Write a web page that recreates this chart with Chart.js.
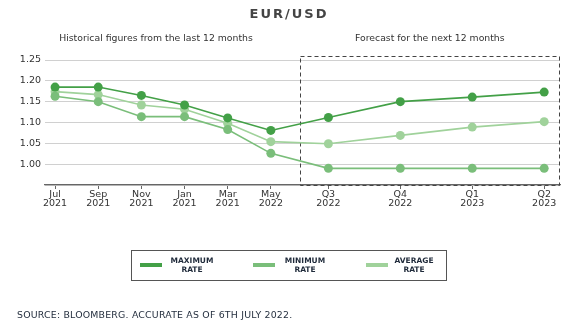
<!DOCTYPE html>
<html>
<head>
<meta charset="utf-8">
<script src="https://cdn.jsdelivr.net/npm/chart.js"></script>
<style>
    body { margin: 0; background: #fff; font-family: "DejaVu Sans", sans-serif; }
    #wrap { position: relative; width: 576px; height: 322px; }
    #legend { position: absolute; left: 131px; top: 250px; width: 316px; height: 31px; border: 1.5px solid #555; box-sizing: border-box; }
    .item { position: absolute; top: 0; height: 28px; }
    .swatch { position: absolute; top: 12px; width: 22px; height: 4px; }
    .label { position: absolute; top: 5px; width: 70px; text-align: center; font-size: 7.5px; line-height: 9px; font-weight: bold; color: #1f2a3a; }
    #source { position: absolute; left: 17px; top: 309px; font-size: 9.4px; line-height: 11px; letter-spacing: 0.2px; color: #1f2a3a; }
</style>
</head>
<body>
<div id="wrap">
    <canvas id="fx" width="576" height="322"></canvas>
    <div id="legend"></div>
    <div id="source">SOURCE: BLOOMBERG. ACCURATE AS OF 6TH JULY 2022.</div>
</div>
<script>
// periods along the x axis (position = time step, forecast quarters are wider)
const periods = ['Jul 2021', 'Sep 2021', 'Nov 2021', 'Jan 2021', 'Mar 2021', 'May 2022', 'Q3 2022', 'Q4 2022', 'Q1 2023', 'Q2 2023'];
const periodPos = [0, 3, 6, 9, 12, 15, 19, 24, 29, 34];
const forecastStart = 17;

const maxRate = [1.185, 1.185, 1.165, 1.142, 1.111, 1.081, 1.112, 1.150, 1.161, 1.173];
const minRate = [1.163, 1.150, 1.114, 1.114, 1.083, 1.026, 0.990, 0.990, 0.990, 0.990];
const avgRate = [1.174, 1.167, 1.142, 1.132, 1.098, 1.054, 1.049, 1.069, 1.089, 1.102];

const yTicks = [1.00, 1.05, 1.10, 1.15, 1.20, 1.25];

const colMax = 'rgb(67,160,71)';
const colMin = 'rgb(122,190,122)';
const colAvg = 'rgb(160,210,155)';

const series = [
    { label: ['MAXIMUM', 'RATE'], data: maxRate, color: colMax },
    { label: ['MINIMUM', 'RATE'], data: minRate, color: colMin },
    { label: ['AVERAGE', 'RATE'], data: avgRate, color: colAvg },
];

// html legend
const legend = document.getElementById('legend');
series.forEach((s, i) => {
    const it = document.createElement('div');
    it.className = 'item';
    it.style.left = (8 + i * 113) + 'px';
    it.innerHTML = `<div class="swatch" style="background:${s.color}"></div>
        <div class="label" style="left:${i == 2 ? 13 : 17}px">${s.label[0]}<br>${s.label[1]}</div>`;
    legend.appendChild(it);
});

const decor = {
    id: 'decor',
    beforeDraw(chart) {
        const ctx = chart.ctx;
        const x = chart.scales.x;
        ctx.save();
        ctx.fillStyle = '#444';
        ctx.font = 'bold 13px "DejaVu Sans"';
        ctx.textAlign = 'center';
        ctx.textBaseline = 'middle';
        ctx.letterSpacing = '2px';
        ctx.fillText('EUR/USD', 289, 15);
        ctx.letterSpacing = '0px';
        ctx.font = '9.3px "DejaVu Sans"';
        ctx.fillStyle = '#333';
        ctx.fillText('Historical figures from the last 12 months', 156, 39);
        ctx.fillText('Forecast for the next 12 months', (x.getPixelForValue(forecastStart) + chart.chartArea.right) / 2, 39);
        ctx.restore();
    },
    beforeDatasetsDraw(chart) {
        const ctx = chart.ctx;
        const x = chart.scales.x, y = chart.scales.y;
        const l = Math.round(x.getPixelForValue(forecastStart)) + 0.5;
        const r = Math.round(chart.chartArea.right) - 0.5;
        const t = Math.round(y.getPixelForValue(1.25)) - 3.5;
        const b = Math.round(chart.chartArea.bottom) + 0.5;
        ctx.save();
        ctx.strokeStyle = '#444';
        ctx.lineWidth = 1;
        ctx.setLineDash([4, 3]);
        ctx.strokeRect(l, t, r - l, b - t);
        ctx.restore();
    }
};

new Chart(document.getElementById('fx'), {
    type: 'line',
    data: {
        datasets: series.map(s => ({
            label: s.label.join(' '),
            data: s.data.map((v, i) => ({ x: periodPos[i], y: v })),
            borderColor: s.color,
            backgroundColor: s.color,
            pointBackgroundColor: s.color,
            pointBorderWidth: 0,
            pointRadius: 4.5,
            borderWidth: 1.6,
            tension: 0,
        })),
    },
    options: {
        responsive: false,
        animation: false,
        layout: { padding: { left: 0, right: 16, top: 60, bottom: 0 } },
        plugins: { legend: { display: false }, tooltip: { enabled: false } },
        scales: {
            x: {
                type: 'linear',
                min: -0.7,
                max: 35.1,
                afterBuildTicks: (sc) => { sc.ticks = periodPos.map(v => ({ value: v })); },
                afterFit: (sc) => { sc.height = 137; },
                ticks: {
                    autoSkip: false,
                    maxRotation: 0,
                    padding: 1,
                    color: '#333',
                    font: { family: 'DejaVu Sans', size: 9.5, lineHeight: 0.95 },
                    callback: (v) => {
                        const i = periodPos.indexOf(v);
                        return i < 0 ? '' : periods[i].split(' ');
                    },
                },
                grid: { drawOnChartArea: false, drawTicks: true, tickLength: 4, color: '#666' },
                border: { color: '#666', width: 1.2 },
            },
            y: {
                min: 0.95,
                max: 1.25,
                afterBuildTicks: (sc) => { sc.ticks = [0.95].concat(yTicks).map(v => ({ value: v })); },
                afterFit: (sc) => { sc.width = 45; },
                ticks: {
                    padding: 4,
                    color: '#333',
                    font: { family: 'DejaVu Sans', size: 9.5 },
                    callback: (v) => v < 0.99 ? '' : v.toFixed(2),
                },
                grid: { color: '#d0d0d0', drawTicks: false, lineWidth: 1 },
                border: { display: false },
            },
        },
    },
    plugins: [decor],
});
</script>
</body>
</html>
